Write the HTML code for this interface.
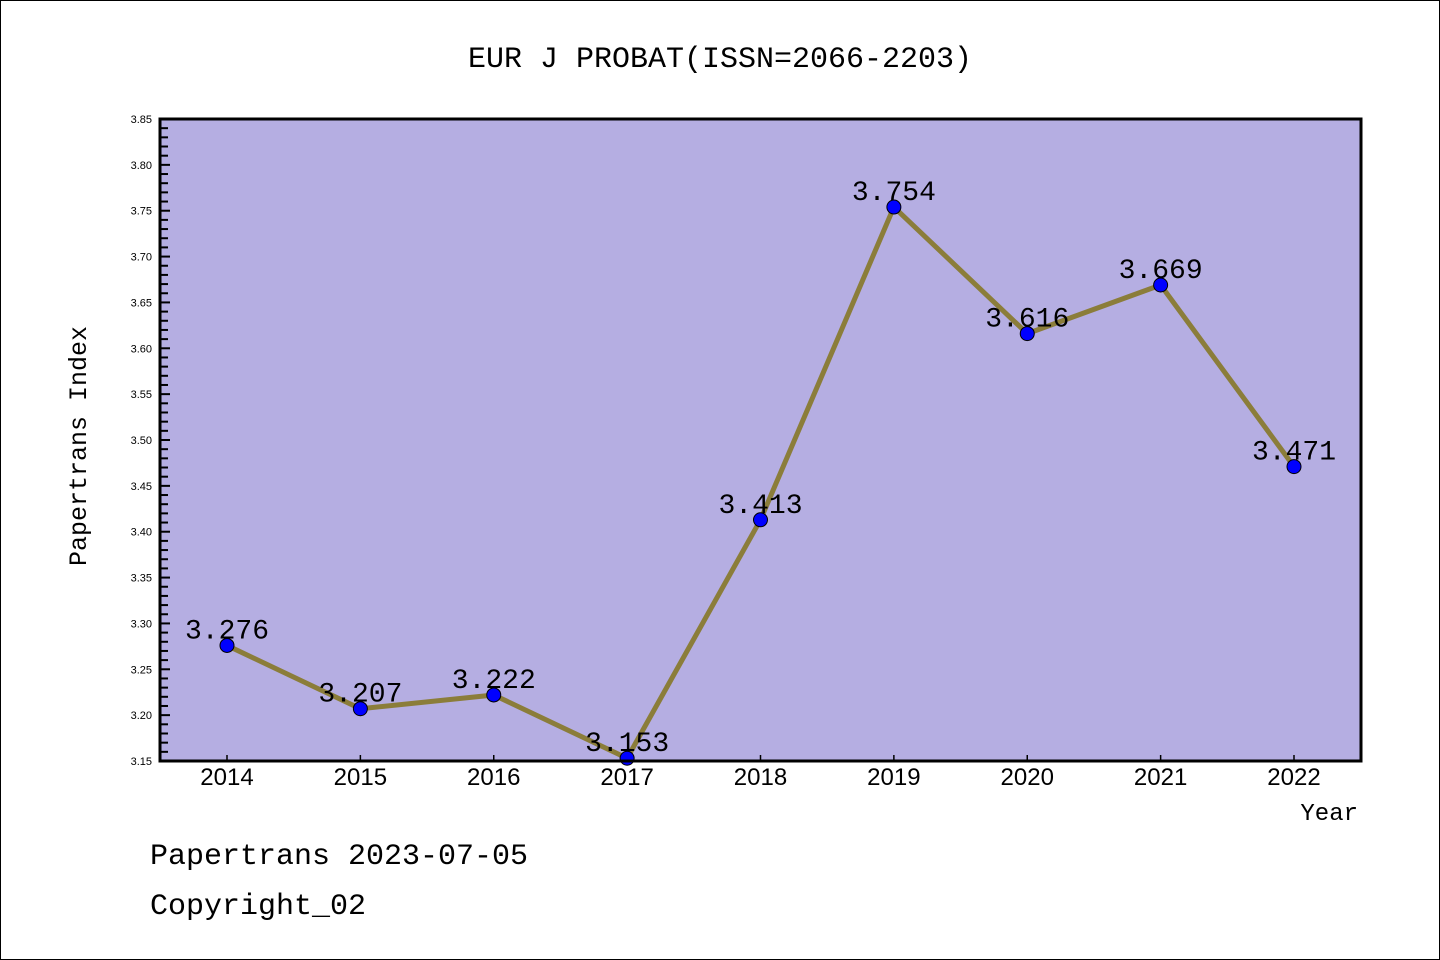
<!DOCTYPE html>
<html><head><meta charset="utf-8"><style>
body{margin:0;background:#fff}
svg{display:block;font-family:"Liberation Mono","DejaVu Sans Mono",monospace}
</style></head><body>
<svg id="chart" width="1440" height="960">
<rect x="0.5" y="0.5" width="1439" height="959" fill="#fff" stroke="#000"/>
<text x="720" y="67" text-anchor="middle" font-size="30">EUR J PROBAT(ISSN=2066-2203)</text>
<rect x="160" y="119" width="1201" height="642" fill="#b5aee2"/>
<g id="yaxis"></g>
<g id="xaxis"></g>
<g id="series"></g>
<rect x="160" y="119" width="1201" height="642" fill="none" stroke="#000" stroke-width="3"/>
<text x="86" y="446" transform="rotate(-90 86 446)" text-anchor="middle" font-size="25">Papertrans Index</text>
<text x="1358" y="820" text-anchor="end" font-size="24">Year</text>
<text x="150" y="864" font-size="30">Papertrans 2023-07-05</text>
<text x="150" y="914" font-size="30">Copyright_02</text>
</svg>
<script>
const years=["2014","2015","2016","2017","2018","2019","2020","2021","2022"];
const values=[3.276,3.207,3.222,3.153,3.413,3.754,3.616,3.669,3.471];
const labels=["3.276","3.207","3.222","3.153","3.413","3.754","3.616","3.669","3.471"];
const yTicks=["3.15","3.20","3.25","3.30","3.35","3.40","3.45","3.50","3.55","3.60","3.65","3.70","3.75","3.80","3.85"];
const NS="http://www.w3.org/2000/svg";
const yMin=3.15,yMax=3.85,plotTop=119,plotBot=761;
function yScale(v){return plotBot-(v-yMin)/(yMax-yMin)*(plotBot-plotTop);}
function xScale(i){return 227+i*(1294-227)/(years.length-1);}
function mk(t,a,p){const e=document.createElementNS(NS,t);for(const k in a)e.setAttribute(k,a[k]);p.appendChild(e);return e;}
const ya=document.getElementById('yaxis'),xa=document.getElementById('xaxis'),sg=document.getElementById('series');
for(let i=0;i<yTicks.length;i++){
  const v=parseFloat(yTicks[i]),yy=yScale(v);
  const t=mk('text',{x:152,y:yy+4,'text-anchor':'end','font-size':11,'font-family':'Liberation Sans, sans-serif'},ya);
  
  
  t.textContent=yTicks[i];
  const l=mk('line',{x1:160,x2:170,y1:yy,y2:yy,stroke:'#000','stroke-width':2},ya);
  
  
  if(i<yTicks.length-1){for(let m=1;m<5;m++){const ym=yScale(v+m*0.01);
    const ml=mk('line',{x1:160,x2:168,y1:ym,y2:ym,stroke:'#000','stroke-width':2},ya);
    
    }}
}
years.forEach((yr,i)=>{
  const l=mk('line',{x1:xScale(i),x2:xScale(i),y1:plotBot,y2:plotBot-6,stroke:'#000','stroke-width':1.5},xa);
  
  
  const t=mk('text',{x:xScale(i),y:785,'text-anchor':'middle','font-size':24,'font-family':'Liberation Sans, sans-serif'},xa);
  
  
  t.textContent=yr;
});
const pts=values.map((v,i)=>xScale(i)+','+yScale(v)).join(' ');
const pl=mk('polyline',{points:pts,fill:'none',stroke:'#8b7d3a','stroke-width':5,'stroke-linejoin':'round'},sg);


values.forEach((v,i)=>{
  const c=mk('circle',{cx:xScale(i),cy:yScale(v),r:7,fill:'#0000ff',stroke:'#000','stroke-width':1},sg);
  
  
  const t=mk('text',{x:xScale(i),y:yScale(v)-7,'text-anchor':'middle','font-size':28},sg);
  
  
  t.textContent=labels[i];
});
</script>
</body></html>
